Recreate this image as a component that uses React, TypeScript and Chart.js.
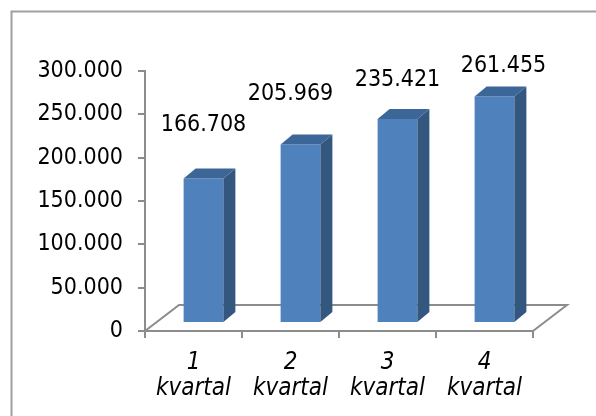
import React, { useEffect, useRef } from "react";
import { Chart, registerables } from "chart.js";

Chart.register(...registerables);

// ---- data ----
const CATEGORIES: string[][] = [
  ["1", "kvartal"],
  ["2", "kvartal"],
  ["3", "kvartal"],
  ["4", "kvartal"],
];
const VALUES: number[] = [166708, 205969, 235421, 261455];
const Y_MIN = 0;
const Y_MAX = 300000;
const Y_STEP = 50000;

// ---- style ----
const FONT = "'DejaVu Sans Condensed', 'DejaVu Sans', sans-serif";
const AXIS_COLOR = "#8c8c8c";
const FRONT = "#4f81bd";
const SIDE = "#34577f";
const TOP = "#3d6698";
const FLOOR_DEPTH = { dx: 34, dy: -26 };
const BAR_SHIFT = { dx: 10, dy: -8 };
const BAR_DEPTH = { dx: 12, dy: -10 };
const LABEL_DX = [0, -10, 0, 9];
const LABEL_DY = [53, 50, 39, 30];

const fmt = (v: number) =>
  Math.round(v)
    .toString()
    .replace(/\B(?=(\d{3})+(?!\d))/g, ".");

const threeD = {
  id: "threeD",
  beforeDraw(chart: any) {
    const ctx = chart.ctx;
    ctx.save();
    ctx.strokeStyle = "#a0a0a0";
    ctx.lineWidth = 2;
    ctx.strokeRect(11.5, 11.5, 800, 800);
    ctx.restore();
  },
  beforeDatasetsDraw(chart: any) {
    const { ctx, chartArea: a } = chart;
    ctx.save();
    ctx.strokeStyle = AXIS_COLOR;
    ctx.lineWidth = 2;
    ctx.beginPath();
    ctx.moveTo(a.left, a.bottom);
    ctx.lineTo(a.left + FLOOR_DEPTH.dx, a.bottom + FLOOR_DEPTH.dy);
    ctx.lineTo(a.right + FLOOR_DEPTH.dx, a.bottom + FLOOR_DEPTH.dy);
    ctx.lineTo(a.right, a.bottom);
    ctx.stroke();
    ctx.translate(BAR_SHIFT.dx, BAR_SHIFT.dy);
  },
  afterDatasetsDraw(chart: any) {
    const ctx = chart.ctx;
    ctx.restore();
    const meta = chart.getDatasetMeta(0);
    meta.data.forEach((bar: any, i: number) => {
      const { x, y, base, width } = bar.getProps(["x", "y", "base", "width"], true);
      const L = x - width / 2 + BAR_SHIFT.dx;
      const R = x + width / 2 + BAR_SHIFT.dx;
      const T = y + BAR_SHIFT.dy;
      const B = base + BAR_SHIFT.dy;
      ctx.save();
      ctx.fillStyle = SIDE;
      ctx.beginPath();
      ctx.moveTo(R, T);
      ctx.lineTo(R + BAR_DEPTH.dx, T + BAR_DEPTH.dy);
      ctx.lineTo(R + BAR_DEPTH.dx, B + BAR_DEPTH.dy);
      ctx.lineTo(R, B);
      ctx.closePath();
      ctx.fill();
      ctx.fillStyle = TOP;
      ctx.beginPath();
      ctx.moveTo(L, T);
      ctx.lineTo(L + BAR_DEPTH.dx, T + BAR_DEPTH.dy);
      ctx.lineTo(R + BAR_DEPTH.dx, T + BAR_DEPTH.dy);
      ctx.lineTo(R, T);
      ctx.closePath();
      ctx.fill();
      ctx.fillStyle = "#000";
      ctx.font = `23px ${FONT}`;
      ctx.textAlign = "center";
      ctx.textBaseline = "middle";
      ctx.fillText(
        fmt(VALUES[i]),
        x + BAR_SHIFT.dx + LABEL_DX[i],
        T - LABEL_DY[i]
      );
      ctx.restore();
    });
  },
};

export default function App() {
  const ref = useRef<HTMLCanvasElement>(null);
  useEffect(() => {
    if (!ref.current) return;
    const chart = new Chart(ref.current, {
      type: "bar",
      data: {
        labels: CATEGORIES,
        datasets: [
          {
            data: VALUES,
            backgroundColor: FRONT,
            borderWidth: 0,
            barPercentage: 0.41,
            categoryPercentage: 1,
          },
        ],
      },
      options: {
        animation: false,
        responsive: false,
        devicePixelRatio: 1,
        layout: { padding: { left: 0, top: 71, right: 63, bottom: 0 } },
        plugins: { legend: { display: false }, tooltip: { enabled: false } },
        scales: {
          x: {
            afterFit: (s: any) => {
              s.height = 85;
            },
            grid: {
              drawOnChartArea: false,
              drawTicks: true,
              tickLength: 7,
              color: AXIS_COLOR,
              lineWidth: 2,
            },
            border: { display: true, color: AXIS_COLOR, width: 2 },
            ticks: {
              color: "#000",
              padding: 12,
              maxRotation: 0,
              autoSkip: false,
              font: { family: FONT, size: 24, style: "italic", lineHeight: 1.07 },
            },
          },
          y: {
            min: Y_MIN,
            max: Y_MAX,
            afterFit: (s: any) => {
              s.width = 145;
            },
            grid: {
              drawOnChartArea: false,
              drawTicks: true,
              tickLength: 7,
              color: AXIS_COLOR,
              lineWidth: 2,
            },
            border: { display: true, color: AXIS_COLOR, width: 2 },
            ticks: {
              stepSize: Y_STEP,
              color: "#000",
              padding: 15,
              font: { family: FONT, size: 23 },
              callback: (v: any) => fmt(Number(v)),
            },
          },
        },
      },
      plugins: [threeD],
    });
    return () => chart.destroy();
  }, []);
  return (
    <div style={{ position: "fixed", left: 0, top: 0, width: 596, height: 416, background: "#fff" }}>
      <canvas ref={ref} width={596} height={416} />
    </div>
  );
}
